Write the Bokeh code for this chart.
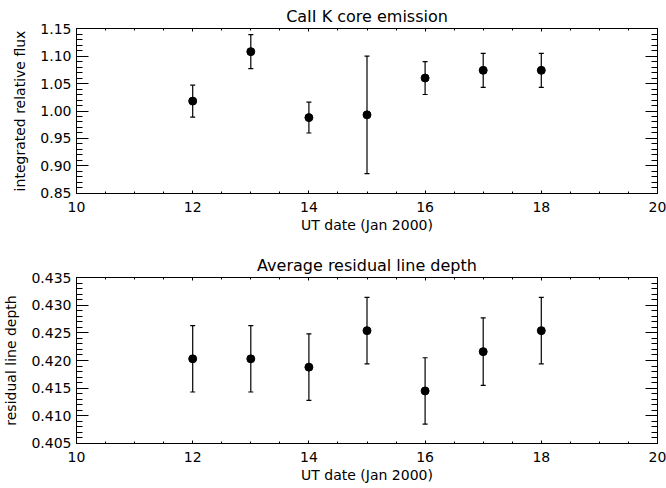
from bokeh.plotting import figure
from bokeh.models import (ColumnDataSource, Whisker, LinearAxis, SingleIntervalTicker,
                          NumeralTickFormatter, CustomJSTickFormatter, Range1d, TeeHead)
from bokeh.layouts import column
from bokeh.embed import file_html
from bokeh.resources import INLINE

# ---- data ----
days = [12, 13, 14, 15, 16, 17, 18]
flux = [1.018, 1.108, 0.988, 0.993, 1.060, 1.074, 1.074]
flux_err = [0.029, 0.031, 0.028, 0.107, 0.030, 0.031, 0.031]
depth = [0.4203, 0.4203, 0.4188, 0.4254, 0.4145, 0.4216, 0.4254]
depth_err = [0.0060, 0.0060, 0.0060, 0.0060, 0.0060, 0.0061, 0.0060]

x_ticks_interval = 2
FONT = "DejaVu Sans"


def make_panel(title, ylabel, y, err, yrange, yint, yfmt, top, bottom):
    src = ColumnDataSource(dict(
        x=days, y=y,
        upper=[a + b for a, b in zip(y, err)],
        lower=[a - b for a, b in zip(y, err)],
    ))
    p = figure(width=666, height=244, output_backend="svg", toolbar_location=None,
               x_range=Range1d(10, 20), y_range=Range1d(*yrange),
               min_border_left=73, min_border_right=9,
               min_border_top=top, min_border_bottom=bottom,
               x_axis_label="UT date (Jan 2000)", y_axis_label=ylabel)
    p.title.text = title
    p.title.align = "center"
    p.title.text_font = FONT
    p.title.text_font_size = "16px"
    p.title.text_font_style = "normal"
    p.title.text_color = "black"
    p.title.standoff = 5
    p.xgrid.visible = False
    p.ygrid.visible = False
    p.outline_line_color = "black"
    p.outline_line_width = 1
    p.background_fill_color = "white"
    p.border_fill_color = "white"

    xt = SingleIntervalTicker(interval=x_ticks_interval, num_minor_ticks=4)
    yt = SingleIntervalTicker(interval=yint, num_minor_ticks=5)

    def style(ax, ticker, maj, mnr):
        ax.ticker = ticker
        ax.axis_line_color = "black"
        ax.major_tick_line_color = "black"
        ax.minor_tick_line_color = "black"
        ax.major_tick_in = maj
        ax.major_tick_out = 0
        ax.minor_tick_in = mnr
        ax.minor_tick_out = 0
        ax.major_label_text_font = FONT
        ax.major_label_text_font_size = "14px"
        ax.major_label_text_color = "black"
        ax.axis_label_text_font = FONT
        ax.axis_label_text_font_size = "14px"
        ax.axis_label_text_font_style = "normal"
        ax.axis_label_text_color = "black"

    xa = p.xaxis[0]
    style(xa, xt, 3, 2)
    xa.major_label_standoff = 8
    xa.axis_label_standoff = 2
    ya = p.yaxis[0]
    style(ya, yt, 12, 6)
    ya.formatter = NumeralTickFormatter(format=yfmt)
    ya.major_label_standoff = 5
    ya.axis_label_standoff = 9

    blank = CustomJSTickFormatter(code="return ''")
    ra = LinearAxis()
    style(ra, SingleIntervalTicker(interval=yint, num_minor_ticks=5), 12, 6)
    ra.formatter = blank
    ra.major_label_standoff = 0
    p.add_layout(ra, "right")
    ta = LinearAxis()
    style(ta, SingleIntervalTicker(interval=x_ticks_interval, num_minor_ticks=4), 3, 2)
    ta.formatter = blank
    ta.major_label_standoff = 0
    p.add_layout(ta, "above")

    w = Whisker(source=src, base="x", upper="upper", lower="lower",
                line_color="black", line_width=1.2,
                upper_head=TeeHead(size=5, line_color="black", line_width=1.2),
                lower_head=TeeHead(size=5, line_color="black", line_width=1.2))
    p.add_layout(w)
    p.scatter("x", "y", source=src, size=8, marker="circle",
              fill_color="black", line_color="black")
    return p


p1 = make_panel("CaII K core emission", "integrated relative flux", flux, flux_err,
                (0.8499, 1.1501), 0.05, "0.00", 28, 51)
p2 = make_panel("Average residual line depth", "residual line depth", depth, depth_err,
                (0.40499, 0.43501), 0.005, "0.000", 33, 45)

p = column(p1, p2)
open("out.html", "w").write(file_html(p, INLINE))
